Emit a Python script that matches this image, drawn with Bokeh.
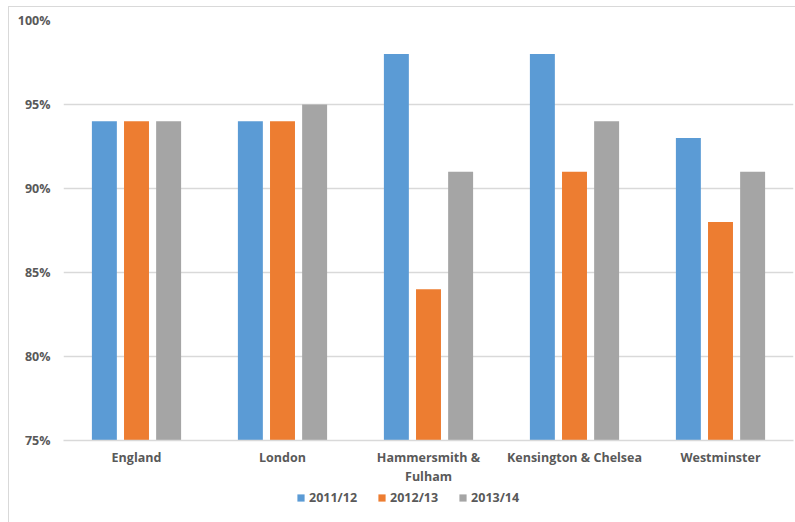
from bokeh.plotting import figure
from bokeh.layouts import column
from bokeh.models import (ColumnDataSource, FixedTicker, PrintfTickFormatter, Legend, LegendItem,
                          Range1d, InlineStyleSheet)
from bokeh.transform import dodge
from bokeh.embed import file_html
from bokeh.resources import INLINE

categories = ["England", "London", "Hammersmith &\nFulham", "Kensington & Chelsea", "Westminster"]
years = ["2011/12", "2012/13", "2013/14"]
v2011 = [94, 94, 98, 98, 93]
v2012 = [94, 94, 84, 91, 88]
v2013 = [94, 95, 91, 94, 91]
colors = ["#5B9BD5", "#ED7D31", "#A5A5A5"]
y_ticks = [75, 80, 85, 90, 95, 100]

src = ColumnDataSource(dict(cat=categories, a=v2011, b=v2012, c=v2013))

FONT = "Open Sans"
TXT = "#595959"

p = figure(x_range=categories, y_range=(75, 100), width=795, height=488,
           output_backend="svg", toolbar_location=None,
           min_border_left=63, min_border_right=2, min_border_top=20, min_border_bottom=48)
p.outline_line_color = None

for i, (col, c) in enumerate(zip(["a", "b", "c"], colors)):
    p.vbar(x=dodge("cat", (i - 1) * 0.22, range=p.x_range), top=col, bottom=75,
           width=0.171, source=src, color=c, line_color=None)

p.yaxis.ticker = FixedTicker(ticks=y_ticks)
p.yaxis.formatter = PrintfTickFormatter(format="%d%%")
p.yaxis.axis_line_color = None
p.yaxis.major_tick_line_color = None
p.yaxis.minor_tick_line_color = None
p.yaxis.major_tick_out = 0
p.yaxis.major_label_text_font = FONT
p.yaxis.major_label_text_font_style = "bold"
p.yaxis.major_label_text_font_size = "12.5px"
p.yaxis.major_label_text_color = TXT
p.yaxis.major_label_standoff = 13

p.xaxis.axis_line_color = "#d9d9d9"
p.xaxis.axis_line_width = 1.5
p.xaxis.major_tick_line_color = None
p.xaxis.minor_tick_line_color = None
p.xaxis.major_tick_out = 0
p.xaxis.major_tick_in = 0
p.xaxis.axis_label_standoff = 0
p.xaxis.major_label_text_font = FONT
p.xaxis.major_label_text_font_style = "bold"
p.xaxis.major_label_text_font_size = "12.5px"
p.xaxis.major_label_text_color = TXT
p.xaxis.major_label_text_line_height = 1.15
p.xaxis.major_label_standoff = 8

p.xgrid.grid_line_color = None
p.ygrid.grid_line_color = "#d9d9d9"
p.ygrid.grid_line_width = 1.5

# legend strip
lg = figure(width=795, height=34, output_backend="svg", toolbar_location=None,
            x_range=Range1d(0, 1), y_range=Range1d(0, 1),
            min_border_left=63, min_border_right=2, min_border_top=0, min_border_bottom=0)
lg.axis.visible = False
lg.grid.grid_line_color = None
lg.outline_line_color = None
rs = [lg.vbar(x=[0.5], top=[0], bottom=[0], width=0, color=c, line_color=None) for c in colors]
legend = Legend(items=[LegendItem(label=y, renderers=[r]) for y, r in zip(years, rs)],
                orientation="horizontal", location=(233, 16),
                glyph_width=9, glyph_height=9, label_standoff=4, spacing=20, padding=0, margin=0,
                label_text_font=FONT, label_text_font_style="bold", label_text_font_size="12.5px",
                label_text_color=TXT, label_height=17, border_line_color=None,
                background_fill_alpha=0)
lg.add_layout(legend, "center")

css = InlineStyleSheet(css=""":host { position: relative; }
:host::after { content: ''; position: absolute; left: 8px; top: 6px; width: 900px; height: 700px;
  border: 1px solid #d9d9d9; pointer-events: none; }""")
layout = column(p, lg, spacing=0, stylesheets=[css])
open("out.html", "w").write(file_html(layout, INLINE))
